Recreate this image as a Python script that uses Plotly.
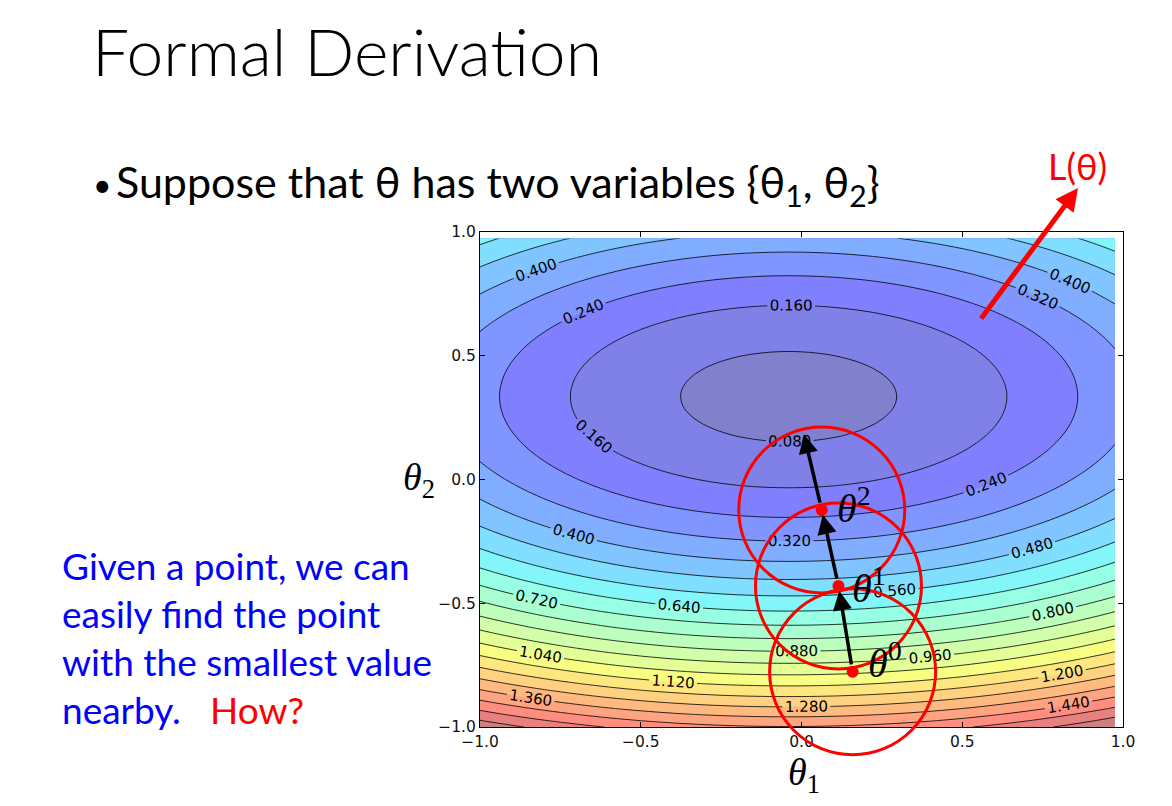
import numpy as np
import plotly.graph_objects as go

# ---------------- data ----------------
theta1_grid = np.arange(-1.0, 1.0, 0.025)
theta2_grid = np.arange(-1.0, 1.0, 0.025)

# loss surface (bowl)
loss_w1 = 0.23
loss_c1 = -0.04
loss_w2 = 0.78
loss_c2 = 0.335
loss_min = 0.054

level_start = 0.08
level_end = 1.60
level_step = 0.08
colour_top = 1.68

path_theta1 = [0.159, 0.115, 0.063, 0.004]
path_theta2 = [-0.777, -0.430, -0.123, 0.203]
path_labels = ["0", "1", "2"]

tick_values = [-1.0, -0.5, 0.0, 0.5, 1.0]
tick_labels = ["\u22121.0", "\u22120.5", "0.0", "0.5", "1.0"]

T1, T2 = np.meshgrid(theta1_grid, theta2_grid)
Z = loss_w1 * (T1 - loss_c1) ** 2 + loss_w2 * (T2 - loss_c2) ** 2 + loss_min

# ---------------- colours (jet, alpha 0.5 on white) ----------------
def jet(v):
    r = np.interp(v, [0, 0.35, 0.66, 0.89, 1.0], [0, 0, 1, 1, 0.5])
    g = np.interp(v, [0, 0.125, 0.375, 0.64, 0.91, 1.0], [0, 0, 1, 1, 0, 0])
    b = np.interp(v, [0, 0.11, 0.34, 0.65, 1.0], [0.5, 1, 1, 0, 0])
    return r, g, b

alpha = 0.5
n_levels = int(round((level_end - level_start) / level_step)) + 1
colorscale = []
for j in range(n_levels + 1):
    mid = level_start + (j - 1) * level_step + level_step / 2
    r, g, b = jet(mid / colour_top)
    rgb = [int(round(255 * (alpha * c + (1 - alpha)))) for c in (r, g, b)]
    colorscale.append([j / n_levels, "rgb(%d,%d,%d)" % tuple(rgb)])

# ---------------- geometry (page has an 8px body margin) ----------------
OFF = 8
W, H = 1172 - OFF, 806 - OFF
ML, MT = 480 - OFF, 232 - OFF
MR, MB = W - (1123 - OFF), H - (727 - OFF)
PW, PH = W - ML - MR, H - MT - MB

def d2p(t1, t2):
    return (t1 + 1) / 2, (t2 + 1) / 2

def px2p(px, py):
    return ((px - OFF) - ML) / PW, ((H - MB) - (py - OFF)) / PH

fig = go.Figure()
fig.add_trace(go.Contour(
    x=theta1_grid, y=theta2_grid, z=Z,
    autocontour=False,
    contours=dict(start=level_start, end=level_end, size=level_step,
                  coloring="fill", showlabels=True,
                  labelfont=dict(family="DejaVu Sans", size=15, color="black"),
                  labelformat=".3f"),
    line=dict(color="black", width=0.8),
    colorscale=colorscale, showscale=False, hoverinfo="skip",
))

fig.add_trace(go.Scatter(
    x=path_theta1[:3], y=path_theta2[:3], mode="markers",
    marker=dict(color="red", size=12), cliponaxis=False, hoverinfo="skip",
))

shapes = []
rx, ry = 83 / PW, 83 / PH
for i in range(3):
    cx, cy = d2p(path_theta1[i], path_theta2[i])
    shapes.append(dict(type="circle", xref="paper", yref="paper",
                       x0=cx - rx, x1=cx + rx, y0=cy - ry, y1=cy + ry,
                       line=dict(color="red", width=3), layer="above"))

ann = []
# gradient steps
for i in range(3):
    ann.append(dict(x=path_theta1[i + 1], y=path_theta2[i + 1], xref="x", yref="y",
                    ax=path_theta1[i], ay=path_theta2[i], axref="x", ayref="y",
                    text="", showarrow=True, arrowhead=2, arrowsize=1.1,
                    arrowwidth=3.5, arrowcolor="black", standoff=5, startstandoff=6))

# theta point labels
label_px = [(866, 660), (850, 585), (835, 505)]
for i in range(3):
    x, y = px2p(*label_px[i])
    ann.append(dict(x=x, y=y, xref="paper", yref="paper", xanchor="left", yanchor="middle",
                    text="<i>\u03b8</i><sup>%s</sup>" % path_labels[i], showarrow=False,
                    font=dict(family="Liberation Serif", size=40, color="black")))

# axis titles
x, y = px2p(786, 775)
ann.append(dict(x=x, y=y, xref="paper", yref="paper", xanchor="left", yanchor="middle",
                text="<i>\u03b8</i><sub>1</sub>", showarrow=False,
                font=dict(family="Liberation Serif", size=38, color="black")))
x, y = px2p(401, 480)
ann.append(dict(x=x, y=y, xref="paper", yref="paper", xanchor="left", yanchor="middle",
                text="<i>\u03b8</i><sub>2</sub>", showarrow=False,
                font=dict(family="Liberation Serif", size=38, color="black")))

# L(theta) arrow and label
x, y = px2p(1078, 188)
ann.append(dict(x=x, y=y, xref="paper", yref="paper", ax=-98, ay=132,
                text="", showarrow=True, arrowhead=2, arrowsize=0.9,
                arrowwidth=5, arrowcolor="red"))
x, y = px2p(1077, 166)
ann.append(dict(x=x, y=y, xref="paper", yref="paper", xanchor="center", yanchor="middle",
                text="L(\u03b8)", showarrow=False,
                font=dict(family="Lato", size=36, color="red")))

# slide text
x, y = px2p(90, 9)
ann.append(dict(x=x, y=y, xref="paper", yref="paper", xanchor="left", yanchor="top",
                text="Formal Derivation", showarrow=False,
                font=dict(family="Lato", size=66, color="black", weight=300)))
x, y = px2p(91, 184)
ann.append(dict(x=x, y=y, xref="paper", yref="paper", xanchor="left", yanchor="middle",
                text="\u2022", showarrow=False,
                font=dict(family="Lato", size=32, color="black")))
x, y = px2p(114, 184)
ann.append(dict(x=x, y=y, xref="paper", yref="paper", xanchor="left", yanchor="middle",
                text="Suppose that \u03b8 has two variables {\u03b8<sub>1</sub>, \u03b8<sub>2</sub>}",
                showarrow=False, font=dict(family="Lato", size=43, color="black")))

blue_lines = ["Given a point, we can", "easily find the point",
              "with the smallest value", "nearby."]
for k, line in enumerate(blue_lines):
    x, y = px2p(60, 565 + 48 * k)
    ann.append(dict(x=x, y=y, xref="paper", yref="paper", xanchor="left", yanchor="middle",
                    text=line, showarrow=False,
                    font=dict(family="Lato", size=37, color="#0000ff")))
x, y = px2p(208, 565 + 48 * 3)
ann.append(dict(x=x, y=y, xref="paper", yref="paper", xanchor="left", yanchor="middle",
                text="How?", showarrow=False,
                font=dict(family="Lato", size=37, color="#ff0000")))

axis_common = dict(range=[-1, 1], tickvals=tick_values, ticktext=tick_labels,
                   ticks="inside", ticklen=5, tickcolor="black", showline=True,
                   mirror="ticks", linecolor="black", linewidth=1, showgrid=False,
                   zeroline=False, tickfont=dict(family="DejaVu Sans", size=15.5, color="#111"))

fig.update_layout(
    width=W, height=H, margin=dict(l=ML, r=MR, t=MT, b=MB),
    paper_bgcolor="white", plot_bgcolor="white", showlegend=False,
    xaxis=dict(**axis_common), yaxis=dict(**axis_common),
    shapes=shapes, annotations=ann,
)

fig.write_html("out.html")
